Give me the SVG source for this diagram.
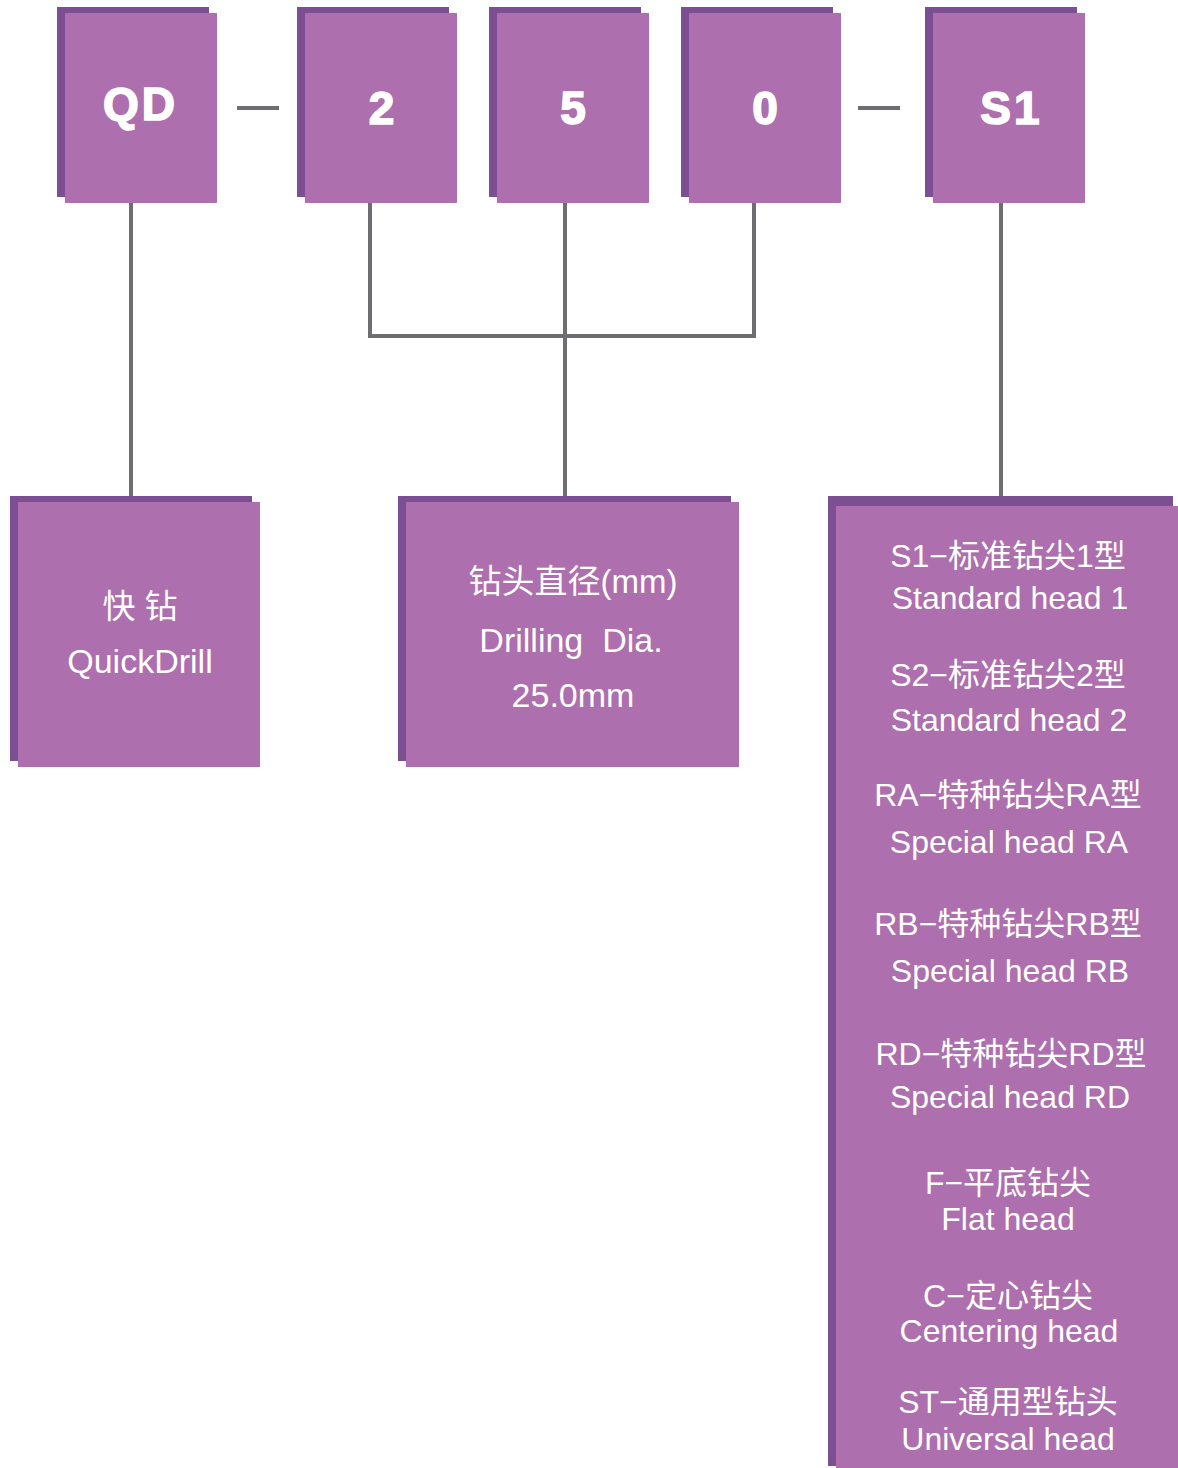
<svg xmlns="http://www.w3.org/2000/svg" width="1178" height="1468" viewBox="0 0 1178 1468">
<style>
.sh{fill:#7b4f91}
.fr{fill:#ad6fad}
.code{font-family:"Liberation Sans",Arial,sans-serif;font-weight:bold;font-size:46px;fill:#fff;stroke:#fff;stroke-width:1.6;text-anchor:middle;letter-spacing:3px}
.t{font-family:"Liberation Sans","Noto Sans CJK SC",sans-serif;fill:#fff;text-anchor:middle}
.m{font-size:34px}
.r{font-size:32px}
.ln{stroke:#6d6d72;stroke-width:4;fill:none}
</style>
<rect width="1178" height="1468" fill="#fff"/>
<g id="connectors">
<line class="ln" x1="237" y1="108" x2="279" y2="108"/>
<line class="ln" x1="858" y1="108" x2="900" y2="108"/>
<line class="ln" x1="131" y1="203" x2="131" y2="502"/>
<polyline class="ln" points="370,203 370,336 754,336 754,203"/>
<line class="ln" x1="565" y1="203" x2="565" y2="502"/>
<line class="ln" x1="1001" y1="203" x2="1001" y2="506"/>
</g>
<g id="node-qd">
<rect class="sh" x="57" y="7" width="152" height="190"/>
<rect class="fr" x="65" y="13" width="152" height="190"/>
<text class="code" x="140.5" y="120" font-size="44">QD</text>
</g>
<g id="node-2">
<rect class="sh" x="297" y="7" width="152" height="190"/>
<rect class="fr" x="305" y="13" width="152" height="190"/>
<text class="code" x="383" y="124">2</text>
</g>
<g id="node-5">
<rect class="sh" x="489" y="7" width="152" height="190"/>
<rect class="fr" x="497" y="13" width="152" height="190"/>
<text class="code" x="574.5" y="124">5</text>
</g>
<g id="node-0">
<rect class="sh" x="681" y="7" width="152" height="190"/>
<rect class="fr" x="689" y="13" width="152" height="190"/>
<text class="code" x="766.5" y="124">0</text>
</g>
<g id="node-s1">
<rect class="sh" x="925" y="7" width="152" height="190"/>
<rect class="fr" x="933" y="13" width="152" height="190"/>
<text class="code" x="1011.5" y="124">S1</text>
</g>
<g id="node-quickdrill">
<rect class="sh" x="10" y="496" width="242" height="265"/>
<rect class="fr" x="18" y="502" width="242" height="265"/>
<text class="t" x="140" y="618" font-size="33">快 钻</text>
<text class="t m" x="140" y="673">QuickDrill</text>
</g>
<g id="node-dia">
<rect class="sh" x="398" y="496" width="333" height="265"/>
<rect class="fr" x="406" y="502" width="333" height="265"/>
<text class="t" x="573" y="593" font-size="33">钻头直径(mm)</text>
<text class="t m" x="571" y="652" xml:space="preserve">Drilling  Dia.</text>
<text class="t m" x="573" y="707">25.0mm</text>
</g>
<g id="node-heads">
<rect class="sh" x="828" y="496" width="345" height="970"/>
<rect class="fr" x="836" y="506" width="342" height="962"/>
<text class="t r" x="1008" y="567">S1−标准钻尖1型</text>
<text class="t r" x="1010" y="609">Standard head 1</text>
<text class="t r" x="1008" y="686">S2−标准钻尖2型</text>
<text class="t r" x="1009" y="731">Standard head 2</text>
<text class="t r" x="1008" y="806">RA−特种钻尖RA型</text>
<text class="t r" x="1009" y="853">Special head RA</text>
<text class="t r" x="1008" y="935">RB−特种钻尖RB型</text>
<text class="t r" x="1010" y="982">Special head RB</text>
<text class="t r" x="1011" y="1065">RD−特种钻尖RD型</text>
<text class="t r" x="1010" y="1108">Special head RD</text>
<text class="t r" x="1008" y="1194">F−平底钻尖</text>
<text class="t r" x="1008" y="1230">Flat head</text>
<text class="t r" x="1008" y="1307">C−定心钻尖</text>
<text class="t r" x="1009" y="1342">Centering head</text>
<text class="t r" x="1008" y="1413">ST−通用型钻头</text>
<text class="t r" x="1008" y="1450">Universal head</text>
</g>
</svg>
